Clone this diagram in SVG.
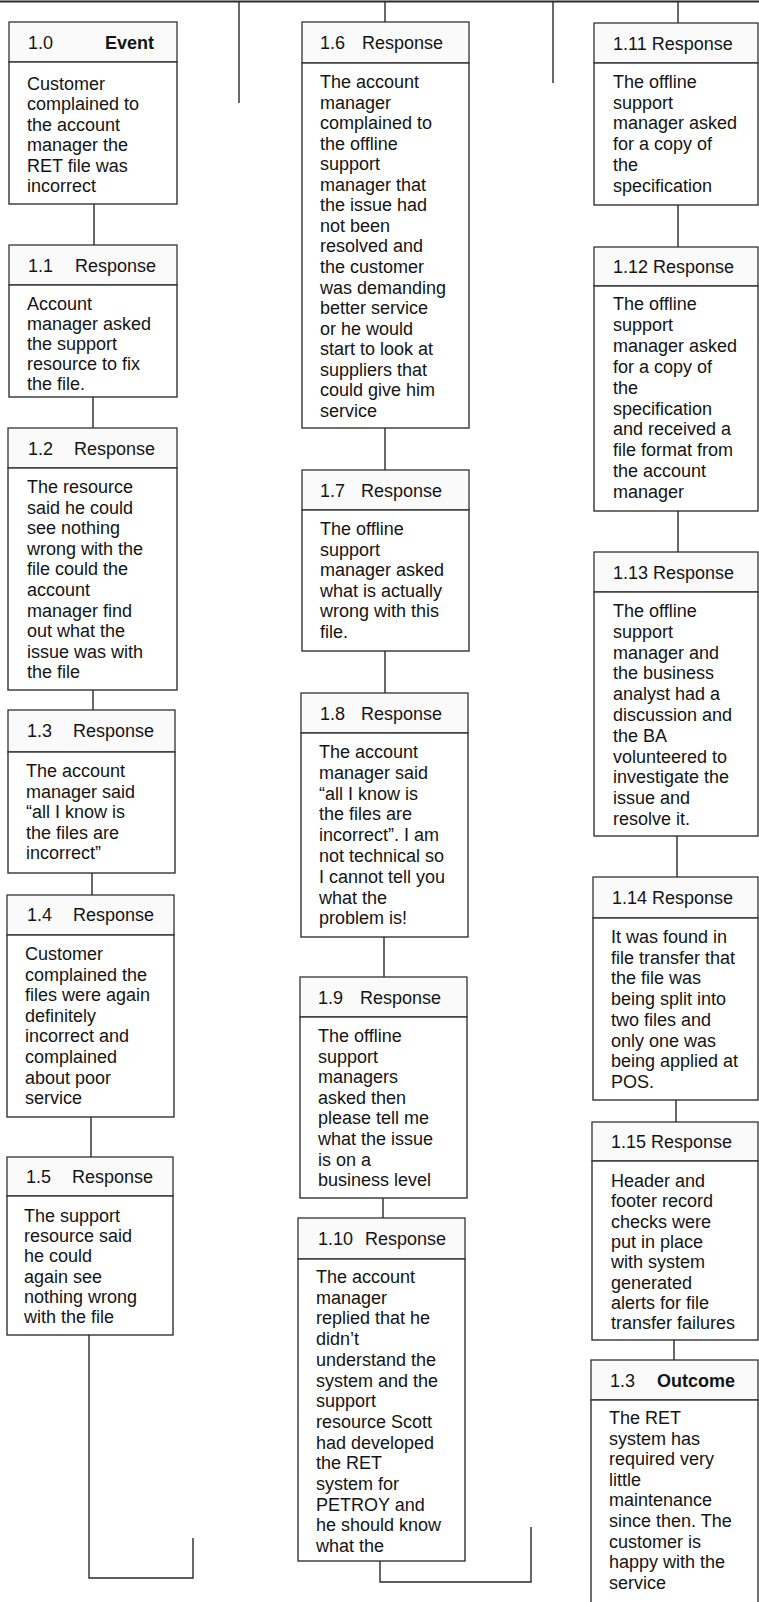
<svg xmlns="http://www.w3.org/2000/svg" width="759" height="1602" viewBox="0 0 759 1602">
<style>
.hd{fill:#fafafa;stroke:#333;stroke-width:1.3}
.bd{fill:#fff;stroke:#333;stroke-width:1.4}
text{font-family:"Liberation Sans",Arial,sans-serif;font-size:18px;fill:#141414}
.b{font-weight:bold}
.c{fill:none;stroke:#2a2a2a;stroke-width:1.4}
</style>
<rect x="0" y="0" width="759" height="1602" fill="#fff"/>
<g id="connectors">
<path class="c" d="M0 1.5H759" style="stroke-width:2.2"/>
<path class="c" d="M239 1V103M385 1V22M553 1V83M678 1V23"/>
<path class="c" d="M94 204V245M93 397V428M93 690V710M92 873V895M91 1117V1157M89 1335V1578H193V1538"/>
<path class="c" d="M385 428V470M385 651V693M384 937V977M383 1198V1218M380 1561V1582H531V1527"/>
<path class="c" d="M678 205V247M678 511V552M677 836V877M676 1100V1122M674 1340V1360"/>
</g>
<g id="n1_0">
<rect class="hd" x="9" y="22" width="168" height="40"/>
<rect class="bd" x="9" y="62" width="168" height="142"/>
<text x="28" y="49">1.0</text><text class="b" x="105" y="49">Event</text>
<text x="27" y="90"><tspan x="27">Customer</tspan><tspan x="27" dy="20.4">complained to</tspan><tspan x="27" dy="20.4">the account</tspan><tspan x="27" dy="20.4">manager the</tspan><tspan x="27" dy="20.4">RET file was</tspan><tspan x="27" dy="20.4">incorrect</tspan></text>
</g>
<g id="n1_1">
<rect class="hd" x="9" y="245" width="168" height="40"/>
<rect class="bd" x="9" y="285" width="168" height="112"/>
<text x="28" y="272">1.1</text><text x="75" y="272">Response</text>
<text x="27" y="310"><tspan x="27">Account</tspan><tspan x="27" dy="20.1">manager asked</tspan><tspan x="27" dy="20.1">the support</tspan><tspan x="27" dy="20.1">resource to fix</tspan><tspan x="27" dy="20.1">the file.</tspan></text>
</g>
<g id="n1_2">
<rect class="hd" x="8" y="428" width="169" height="40"/>
<rect class="bd" x="8" y="468" width="169" height="222"/>
<text x="28" y="455">1.2</text><text x="74" y="455">Response</text>
<text x="27" y="493"><tspan x="27">The resource</tspan><tspan x="27" dy="20.6">said he could</tspan><tspan x="27" dy="20.6">see nothing</tspan><tspan x="27" dy="20.6">wrong with the</tspan><tspan x="27" dy="20.6">file could the</tspan><tspan x="27" dy="20.6">account</tspan><tspan x="27" dy="20.6">manager find</tspan><tspan x="27" dy="20.6">out what the</tspan><tspan x="27" dy="20.6">issue was with</tspan><tspan x="27" dy="20.6">the file</tspan></text>
</g>
<g id="n1_3">
<rect class="hd" x="8" y="710" width="167" height="42"/>
<rect class="bd" x="8" y="752" width="167" height="121"/>
<text x="27" y="737">1.3</text><text x="73" y="737">Response</text>
<text x="26" y="777"><tspan x="26">The account</tspan><tspan x="26" dy="20.6">manager said</tspan><tspan x="26" dy="20.6">“all I know is</tspan><tspan x="26" dy="20.6">the files are</tspan><tspan x="26" dy="20.6">incorrect”</tspan></text>
</g>
<g id="n1_4">
<rect class="hd" x="7" y="895" width="167" height="40"/>
<rect class="bd" x="7" y="935" width="167" height="182"/>
<text x="27" y="921">1.4</text><text x="73" y="921">Response</text>
<text x="25" y="960"><tspan x="25">Customer</tspan><tspan x="25" dy="20.6">complained the</tspan><tspan x="25" dy="20.6">files were again</tspan><tspan x="25" dy="20.6">definitely</tspan><tspan x="25" dy="20.6">incorrect and</tspan><tspan x="25" dy="20.6">complained</tspan><tspan x="25" dy="20.6">about poor</tspan><tspan x="25" dy="20.6">service</tspan></text>
</g>
<g id="n1_5">
<rect class="hd" x="7" y="1157" width="166" height="39"/>
<rect class="bd" x="7" y="1196" width="166" height="139"/>
<text x="26" y="1183">1.5</text><text x="72" y="1183">Response</text>
<text x="24" y="1222"><tspan x="24">The support</tspan><tspan x="24" dy="20.2">resource said</tspan><tspan x="24" dy="20.2">he could</tspan><tspan x="24" dy="20.2">again see</tspan><tspan x="24" dy="20.2">nothing wrong</tspan><tspan x="24" dy="20.2">with the file</tspan></text>
</g>
<g id="n1_6">
<rect class="hd" x="302" y="22" width="167" height="41"/>
<rect class="bd" x="302" y="63" width="167" height="365"/>
<text x="320" y="49">1.6</text><text x="362" y="49">Response</text>
<text x="320" y="88"><tspan x="320">The account</tspan><tspan x="320" dy="20.56">manager</tspan><tspan x="320" dy="20.56">complained to</tspan><tspan x="320" dy="20.56">the offline</tspan><tspan x="320" dy="20.56">support</tspan><tspan x="320" dy="20.56">manager that</tspan><tspan x="320" dy="20.56">the issue had</tspan><tspan x="320" dy="20.56">not been</tspan><tspan x="320" dy="20.56">resolved and</tspan><tspan x="320" dy="20.56">the customer</tspan><tspan x="320" dy="20.56">was demanding</tspan><tspan x="320" dy="20.56">better service</tspan><tspan x="320" dy="20.56">or he would</tspan><tspan x="320" dy="20.56">start to look at</tspan><tspan x="320" dy="20.56">suppliers that</tspan><tspan x="320" dy="20.56">could give him</tspan><tspan x="320" dy="20.56">service</tspan></text>
</g>
<g id="n1_7">
<rect class="hd" x="302" y="470" width="167" height="40"/>
<rect class="bd" x="302" y="510" width="167" height="141"/>
<text x="320" y="497">1.7</text><text x="361" y="497">Response</text>
<text x="320" y="535"><tspan x="320">The offline</tspan><tspan x="320" dy="20.5">support</tspan><tspan x="320" dy="20.5">manager asked</tspan><tspan x="320" dy="20.5">what is actually</tspan><tspan x="320" dy="20.5">wrong with this</tspan><tspan x="320" dy="20.5">file.</tspan></text>
</g>
<g id="n1_8">
<rect class="hd" x="301" y="693" width="167" height="40"/>
<rect class="bd" x="301" y="733" width="167" height="204"/>
<text x="320" y="720">1.8</text><text x="361" y="720">Response</text>
<text x="319" y="758"><tspan x="319">The account</tspan><tspan x="319" dy="20.8">manager said</tspan><tspan x="319" dy="20.8">“all I know is</tspan><tspan x="319" dy="20.8">the files are</tspan><tspan x="319" dy="20.8">incorrect”. I am</tspan><tspan x="319" dy="20.8">not technical so</tspan><tspan x="319" dy="20.8">I cannot tell you</tspan><tspan x="319" dy="20.8">what the</tspan><tspan x="319" dy="20.8">problem is!</tspan></text>
</g>
<g id="n1_9">
<rect class="hd" x="300" y="977" width="167" height="40"/>
<rect class="bd" x="300" y="1017" width="167" height="181"/>
<text x="318" y="1004">1.9</text><text x="360" y="1004">Response</text>
<text x="318" y="1042"><tspan x="318">The offline</tspan><tspan x="318" dy="20.6">support</tspan><tspan x="318" dy="20.6">managers</tspan><tspan x="318" dy="20.6">asked then</tspan><tspan x="318" dy="20.6">please tell me</tspan><tspan x="318" dy="20.6">what the issue</tspan><tspan x="318" dy="20.6">is on a</tspan><tspan x="318" dy="20.6">business level</tspan></text>
</g>
<g id="n1_10">
<rect class="hd" x="298" y="1218" width="167" height="41"/>
<rect class="bd" x="298" y="1259" width="167" height="302"/>
<text x="318" y="1245">1.10</text><text x="365" y="1245">Response</text>
<text x="316" y="1283"><tspan x="316">The account</tspan><tspan x="316" dy="20.7">manager</tspan><tspan x="316" dy="20.7">replied that he</tspan><tspan x="316" dy="20.7">didn’t</tspan><tspan x="316" dy="20.7">understand the</tspan><tspan x="316" dy="20.7">system and the</tspan><tspan x="316" dy="20.7">support</tspan><tspan x="316" dy="20.7">resource Scott</tspan><tspan x="316" dy="20.7">had developed</tspan><tspan x="316" dy="20.7">the RET</tspan><tspan x="316" dy="20.7">system for</tspan><tspan x="316" dy="20.7">PETROY and</tspan><tspan x="316" dy="20.7">he should know</tspan><tspan x="316" dy="20.7">what the</tspan></text>
</g>
<g id="n1_11">
<rect class="hd" x="594" y="23" width="164" height="40"/>
<rect class="bd" x="594" y="63" width="164" height="142"/>
<text x="613" y="50">1.11 Response</text>
<text x="613" y="88"><tspan x="613">The offline</tspan><tspan x="613" dy="20.7">support</tspan><tspan x="613" dy="20.7">manager asked</tspan><tspan x="613" dy="20.7">for a copy of</tspan><tspan x="613" dy="20.7">the</tspan><tspan x="613" dy="20.7">specification</tspan></text>
</g>
<g id="n1_12">
<rect class="hd" x="594" y="247" width="164" height="39"/>
<rect class="bd" x="594" y="286" width="164" height="225"/>
<text x="613" y="273">1.12 Response</text>
<text x="613" y="310"><tspan x="613">The offline</tspan><tspan x="613" dy="20.9">support</tspan><tspan x="613" dy="20.9">manager asked</tspan><tspan x="613" dy="20.9">for a copy of</tspan><tspan x="613" dy="20.9">the</tspan><tspan x="613" dy="20.9">specification</tspan><tspan x="613" dy="20.9">and received a</tspan><tspan x="613" dy="20.9">file format from</tspan><tspan x="613" dy="20.9">the account</tspan><tspan x="613" dy="20.9">manager</tspan></text>
</g>
<g id="n1_13">
<rect class="hd" x="594" y="552" width="164" height="40"/>
<rect class="bd" x="594" y="592" width="164" height="244"/>
<text x="613" y="579">1.13 Response</text>
<text x="613" y="617"><tspan x="613">The offline</tspan><tspan x="613" dy="20.8">support</tspan><tspan x="613" dy="20.8">manager and</tspan><tspan x="613" dy="20.8">the business</tspan><tspan x="613" dy="20.8">analyst had a</tspan><tspan x="613" dy="20.8">discussion and</tspan><tspan x="613" dy="20.8">the BA</tspan><tspan x="613" dy="20.8">volunteered to</tspan><tspan x="613" dy="20.8">investigate the</tspan><tspan x="613" dy="20.8">issue and</tspan><tspan x="613" dy="20.8">resolve it.</tspan></text>
</g>
<g id="n1_14">
<rect class="hd" x="593" y="877" width="165" height="41"/>
<rect class="bd" x="593" y="918" width="165" height="182"/>
<text x="612" y="904">1.14 Response</text>
<text x="611" y="943"><tspan x="611">It was found in</tspan><tspan x="611" dy="20.7">file transfer that</tspan><tspan x="611" dy="20.7">the file was</tspan><tspan x="611" dy="20.7">being split into</tspan><tspan x="611" dy="20.7">two files and</tspan><tspan x="611" dy="20.7">only one was</tspan><tspan x="611" dy="20.7">being applied at</tspan><tspan x="611" dy="20.7">POS.</tspan></text>
</g>
<g id="n1_15">
<rect class="hd" x="592" y="1122" width="166" height="39"/>
<rect class="bd" x="592" y="1161" width="166" height="179"/>
<text x="611" y="1148">1.15 Response</text>
<text x="611" y="1187"><tspan x="611">Header and</tspan><tspan x="611" dy="20.3">footer record</tspan><tspan x="611" dy="20.3">checks were</tspan><tspan x="611" dy="20.3">put in place</tspan><tspan x="611" dy="20.3">with system</tspan><tspan x="611" dy="20.3">generated</tspan><tspan x="611" dy="20.3">alerts for file</tspan><tspan x="611" dy="20.3">transfer failures</tspan></text>
</g>
<g id="outcome">
<rect class="hd" x="591" y="1360" width="167" height="40"/>
<rect class="bd" x="591" y="1400" width="167" height="205"/>
<text x="610" y="1387">1.3</text><text class="b" x="657" y="1387">Outcome</text>
<text x="609" y="1424"><tspan x="609">The RET</tspan><tspan x="609" dy="20.6">system has</tspan><tspan x="609" dy="20.6">required very</tspan><tspan x="609" dy="20.6">little</tspan><tspan x="609" dy="20.6">maintenance</tspan><tspan x="609" dy="20.6">since then. The</tspan><tspan x="609" dy="20.6">customer is</tspan><tspan x="609" dy="20.6">happy with the</tspan><tspan x="609" dy="20.6">service</tspan></text>
</g>
</svg>
